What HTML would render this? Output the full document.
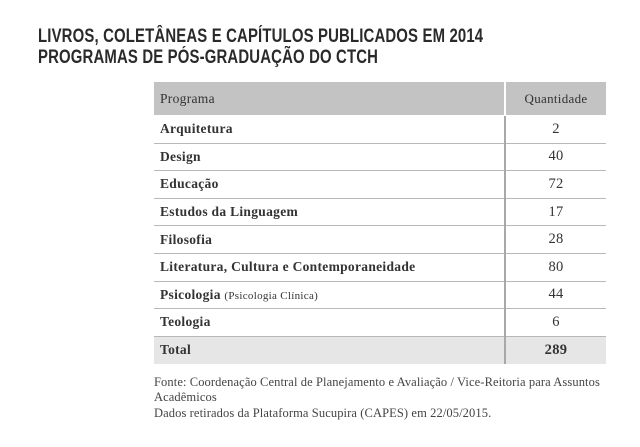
<!DOCTYPE html>
<html><head><meta charset="utf-8"><style>
body{margin:0;background:#fff;width:640px;height:447px;position:relative;overflow:hidden;font-family:"Liberation Serif",serif;color:#333}
.t{position:absolute;left:38px;font-family:"Liberation Sans",sans-serif;font-weight:bold;font-size:19px;transform:scaleX(0.785);transform-origin:left top;white-space:nowrap;color:#2a2a2a;letter-spacing:0.2px}
table{position:absolute;left:154px;top:82px;width:452px;border-collapse:collapse;font-size:13.5px;letter-spacing:0.3px}
td{height:26.6px;padding:0 0 0 6px;border-bottom:1px solid #b8b8b8;color:#333;font-weight:bold}
td.q{width:100px;text-align:center;padding:0;border-left:2px solid #a8a8a8;font-weight:normal;font-size:14.5px}
tr.h td{background:#c3c3c3;height:33px;border-bottom:1px solid #fff;font-weight:normal}
tr.h td.q{border-left:2px solid #fff}
tr.tot td{background:#e6e6e6;border-bottom:none;height:27px}
tr.tot td.q{font-weight:bold}
.n{font-weight:normal;font-size:11px}
.f{position:absolute;left:154px;font-size:12.5px;color:#444;white-space:nowrap;letter-spacing:0.1px}
</style></head><body>
<div class="t" style="top:26px">LIVROS, COLETÂNEAS E CAPÍTULOS PUBLICADOS EM 2014</div>
<div class="t" style="top:47px">PROGRAMAS DE PÓS-GRADUAÇÃO DO CTCH</div>
<table>
<tr class="h"><td>Programa</td><td class="q" style="font-size:13px">Quantidade</td></tr>
<tr><td>Arquitetura</td><td class="q">2</td></tr>
<tr><td>Design</td><td class="q">40</td></tr>
<tr><td>Educação</td><td class="q">72</td></tr>
<tr><td>Estudos da Linguagem</td><td class="q">17</td></tr>
<tr><td>Filosofia</td><td class="q">28</td></tr>
<tr><td>Literatura, Cultura e Contemporaneidade</td><td class="q">80</td></tr>
<tr><td>Psicologia <span class="n">(Psicologia Clínica)</span></td><td class="q">44</td></tr>
<tr><td>Teologia</td><td class="q">6</td></tr>
<tr class="tot"><td>Total</td><td class="q">289</td></tr>
</table>
<div class="f" style="top:375px">Fonte: Coordenação Central de Planejamento e Avaliação / Vice-Reitoria para Assuntos</div>
<div class="f" style="top:390px">Acadêmicos</div>
<div class="f" style="top:406px">Dados retirados da Plataforma Sucupira (CAPES) em 22/05/2015.</div>
</body></html>
